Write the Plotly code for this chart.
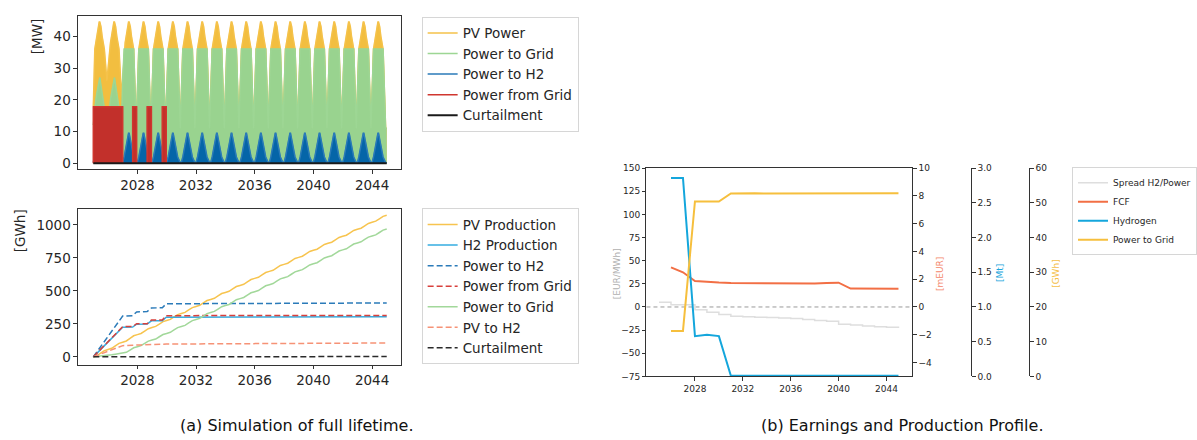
import numpy as np
import plotly.graph_objects as go

# ---------------- (a) hourly power, drawn as daily-peak envelopes ----------------
years = list(range(2025, 2045))                      # operating years
season_t = [0.0, 0.10, 0.17, 0.24, 0.32, 0.40, 0.44, 0.52, 0.60, 0.67, 0.75, 0.925]   # fraction of year
pv_daily_peak_mw = [21.7, 36.0, 38.0, 40.0, 43.0, 44.5, 44.5, 43.0, 40.0, 38.0, 36.0, 11.0]
pv_jan_peak_mw = [18.0, 30.0, 26.0] + [21.7] * 17
pv_dec_peak_mw = [26.0, 21.0] + [11.0] * 18
grid_early_peak_mw = [12.0, 18.0, 20.0, 22.0, 24.5, 27.0, 27.0, 24.5, 22.0, 20.0, 18.0, 12.0]
early_years = 2
grid_export_cap_mw = 36.0
h2_daily_peak_mw = [0.3, 2.0, 4.0, 5.5, 7.5, 9.5, 9.5, 7.5, 5.5, 4.0, 2.0, 0.2]
import_start = [2025.0, 2027.68, 2028.67, 2029.70]
import_end = [2027.0, 2027.95, 2028.96, 2029.97]
import_mw = 17.8
curtailment_mw = [0.0] * 20

# ---------------- (a) cumulative energy ----------------
quarter_share = [0.16, 0.34, 0.34, 0.16]
pv_production_gwh = [55.6, 55.6, 57.4, 53.4, 53.4, 53.1, 53.2, 53.2, 53.1, 53.1,
                     53.2, 53.1, 53.1, 53.1, 53.2, 53.1, 53.0, 53.1, 53.2, 53.1]
step_t = [2025.0, 2027.0, 2027.68, 2027.95, 2028.67, 2028.96, 2029.70, 2029.97, 2045.0]
h2_production_cum = [0, 225, 226, 247, 248, 273, 274, 300, 304]
power_to_h2_cum = [0, 309, 312, 340, 343, 370, 372, 402, 408]
power_from_grid_cum = [0, 229, 229, 251, 251, 279, 279, 312, 314]
pv_to_h2_cum = [0, 85, 88, 89, 92, 93, 96, 97, 105]
curtailment_cum = [0, 1, 1, 1, 1, 1, 1, 1, 2]

# ---------------- (b) yearly earnings and production ----------------
report_years = list(range(2026, 2046))
fcf_meur = [2.85, 2.50, 1.87, 1.80, 1.76, 1.73, 1.72, 1.71, 1.71, 1.70,
            1.69, 1.69, 1.70, 1.72, 1.75, 1.33, 1.32, 1.32, 1.31, 1.31]
hydrogen_mt = [2.86, 2.86, 0.58, 0.60, 0.58] + [0.01] * 15
power_to_grid_gwh = [13.1, 13.1, 50.4, 50.4, 50.4, 52.7, 52.8, 52.8, 52.7, 52.7,
                     52.7, 52.8, 52.7, 52.7, 52.7, 52.8, 52.7, 52.6, 52.7, 52.8]
spread_years = list(range(2025, 2046))
spread_eur_mwh = [5.0, 2.5, 2.3, -3.0, -5.7, -8.2, -9.9, -10.5, -11.0, -11.5, -12.0,
                  -12.5, -13.5, -14.5, -15.5, -18.7, -19.5, -20.5, -21.5, -22.0, -22.6]

W, H = 1197, 440
FONT = "DejaVu Sans"
TXT = "#262626"


def px_x(p):
    return p / W


def px_y(p):
    return 1 - p / H


# envelopes of the hourly series
yr = np.array(years, dtype=float)
t = np.array(season_t)
x_hour = np.append((yr[:, None] + t[None, :]).ravel(), yr[-1] + 1)
pv_env = np.tile(pv_daily_peak_mw, (len(years), 1))
pv_env[:, 0] = pv_jan_peak_mw
pv_env[:, -1] = pv_dec_peak_mw
grid_env = np.minimum(pv_env, grid_export_cap_mw)
grid_env[:early_years] = grid_early_peak_mw
h2_env = np.tile(h2_daily_peak_mw, (len(years), 1))
pv_env = np.append(pv_env.ravel(), pv_daily_peak_mw[-1])
grid_env = np.append(grid_env.ravel(), pv_daily_peak_mw[-1])
h2_env = np.append(h2_env.ravel(), h2_daily_peak_mw[-1])

imp_x, imp_y = [], []
for s, e in zip(import_start, import_end):
    imp_x += [s, s, e, e, None]
    imp_y += [0, import_mw, import_mw, 0, None]

fig = go.Figure()

top = [("PV Power", pv_env, "#f2be40", "#f5c24a"),
       ("Power to Grid", grid_env, "#99d38f", "#9dd694"),
       ("Power to H2", h2_env, "#0565a8", "#2a7ab8")]
for name, env, col, key_col in top:
    fig.add_trace(go.Scatter(x=x_hour, y=env, mode="lines", fill="tozeroy", fillcolor=col,
                             line=dict(color=col, width=0.5), showlegend=False,
                             hoverinfo="skip", xaxis="x", yaxis="y"))
    fig.add_trace(go.Scatter(x=x_hour, y=env, mode="lines", name=name,
                             line=dict(color=key_col, width=1.5), legend="legend",
                             xaxis="x", yaxis="y"))
fig.add_trace(go.Scatter(x=imp_x, y=imp_y, mode="lines", fill="toself", fillcolor="#c2302b",
                         line=dict(color="#c2302b", width=0.5), showlegend=False,
                         hoverinfo="skip", xaxis="x", yaxis="y"))
fig.add_trace(go.Scatter(x=imp_x, y=imp_y, mode="lines", name="Power from Grid",
                         line=dict(color="#d0362f", width=1.5), legend="legend",
                         xaxis="x", yaxis="y"))
fig.add_trace(go.Scatter(x=list(yr) + [yr[-1] + 1], y=curtailment_mw + [curtailment_mw[-1]],
                         mode="lines", name="Curtailment", line=dict(color="#1a1a1a", width=2),
                         legend="legend", xaxis="x", yaxis="y"))

# cumulative energy lines
q = np.array(quarter_share)
xq = np.concatenate([[yr[0]], (yr[:, None] + np.array([0.25, 0.5, 0.75, 1.0])).ravel()])


def cum_quarterly(yearly):
    inc = (np.array(yearly, dtype=float)[:, None] * q[None, :]).ravel()
    return np.concatenate([[0.0], np.cumsum(inc)])


DASH = "6px,3px"
bottom = [
    ("PV Production", xq, cum_quarterly(pv_production_gwh), "#f7c44f", "solid"),
    ("H2 Production", step_t, h2_production_cum, "#35ace0", "solid"),
    ("Power to H2", step_t, power_to_h2_cum, "#2b7bb9", DASH),
    ("Power from Grid", step_t, power_from_grid_cum, "#d8403c", DASH),
    ("Power to Grid", xq, cum_quarterly(power_to_grid_gwh), "#a2d89a", "solid"),
    ("PV to H2", step_t, pv_to_h2_cum, "#f69276", DASH),
    ("Curtailment", step_t, curtailment_cum, "#2a2a2a", DASH),
]
for name, xs, ys, col, dash in bottom:
    fig.add_trace(go.Scatter(x=xs, y=ys, mode="lines", name=name,
                             line=dict(color=col, width=1.5, dash=dash),
                             legend="legend2", xaxis="x2", yaxis="y2"))

# (b) earnings and production profile
fig.add_trace(go.Scatter(x=spread_years, y=spread_eur_mwh, mode="lines", name="Spread H2/Power",
                         line=dict(color="#dedede", width=1.5, shape="hv"),
                         legend="legend3", xaxis="x3", yaxis="y3"))
fig.add_trace(go.Scatter(x=report_years, y=fcf_meur, mode="lines", name="FCF",
                         line=dict(color="#f26f45", width=2),
                         legend="legend3", xaxis="x3", yaxis="y4"))
fig.add_trace(go.Scatter(x=report_years, y=hydrogen_mt, mode="lines", name="Hydrogen",
                         line=dict(color="#14a6dc", width=2),
                         legend="legend3", xaxis="x3", yaxis="y5"))
fig.add_trace(go.Scatter(x=report_years, y=power_to_grid_gwh, mode="lines", name="Power to Grid",
                         line=dict(color="#f6bf3d", width=2),
                         legend="legend3", xaxis="x3", yaxis="y6"))

ax_line = dict(showline=True, linecolor="#333333", linewidth=1, showgrid=False, zeroline=False,
               ticks="outside", ticklen=3.5, tickcolor="#333333")
left_x = [px_x(78), px_x(401)]
year_ticks = [2028, 2032, 2036, 2040, 2044]

fig.update_layout(
    width=W, height=H, margin=dict(l=0, r=0, t=0, b=0),
    paper_bgcolor="white", plot_bgcolor="white",
    font=dict(family=FONT, color=TXT),
    xaxis=dict(domain=left_x, anchor="y", range=[2023.95, 2045.95], tickvals=year_ticks,
               mirror=True, tickfont=dict(size=13.5), **ax_line),
    yaxis=dict(domain=[px_y(168), px_y(11)], anchor="x", range=[-1.85, 46.46],
               tickvals=[0, 10, 20, 30, 40], mirror=True, tickfont=dict(size=13.5), **ax_line),
    xaxis2=dict(domain=left_x, anchor="y2", range=[2023.95, 2045.95], tickvals=year_ticks,
                mirror=True, tickfont=dict(size=13.5), **ax_line),
    yaxis2=dict(domain=[px_y(368), px_y(209)], anchor="x2", range=[-59, 1118],
                tickvals=[0, 250, 500, 750, 1000], mirror=True, tickfont=dict(size=13.5), **ax_line),
    xaxis3=dict(domain=[px_x(647), px_x(913)], anchor="y3", range=[2023.95, 2046.15],
                tickvals=year_ticks, mirror=True, tickfont=dict(size=9), **ax_line),
    yaxis3=dict(domain=[px_y(380), px_y(167)], anchor="x3", range=[-75, 150],
                tickvals=list(range(-75, 151, 25)), tickfont=dict(size=9), **ax_line),
    yaxis4=dict(overlaying="y3", anchor="x3", side="right", range=[-5, 10],
                tickvals=[-4, -2, 0, 2, 4, 6, 8, 10], tickfont=dict(size=9), **ax_line),
    yaxis5=dict(overlaying="y3", anchor="free", position=px_x(972), side="right", range=[0, 3],
                tickvals=[0, 0.5, 1, 1.5, 2, 2.5, 3], tickformat=".1f",
                tickfont=dict(size=9), **ax_line),
    yaxis6=dict(overlaying="y3", anchor="free", position=px_x(1030), side="right", range=[0, 60],
                tickvals=[0, 10, 20, 30, 40, 50, 60], tickfont=dict(size=9), **ax_line),
    legend=dict(x=px_x(422), y=px_y(12), xanchor="left", yanchor="top", bgcolor="white",
                bordercolor="#d6d6d6", borderwidth=1, font=dict(size=13.5, color=TXT)),
    legend2=dict(x=px_x(422), y=px_y(208), xanchor="left", yanchor="top", bgcolor="white",
                 bordercolor="#d6d6d6", borderwidth=1, font=dict(size=13.5, color=TXT)),
    legend3=dict(x=px_x(1073), y=px_y(166), xanchor="left", yanchor="top", bgcolor="white",
                 bordercolor="#d6d6d6", borderwidth=1, font=dict(size=9, color=TXT)),
    shapes=[dict(type="line", xref="x3 domain", yref="y3", x0=0, x1=1, y0=0, y1=0,
                 line=dict(color="#9a9a9a", width=1, dash="4px,3px"), layer="below")],
)

labels = [
    ("[MW]", 37, 32, 13.5, TXT),
    ("[GWh]", 19.5, 231, 13.5, TXT),
    ("[EUR/MWh]", 617, 275, 9, "#b0b0b0"),
    ("[mEUR]", 941, 275, 9, "#f4876a"),
    ("[Mt]", 1001, 274, 9, "#1aa6dc"),
    ("[GWh]", 1057, 275, 9, "#f5c04a"),
]
for text, x, y, size, col in labels:
    fig.add_annotation(text=text, x=px_x(x), y=px_y(y), xref="paper", yref="paper",
                       textangle=-90, showarrow=False, xanchor="center", yanchor="middle",
                       font=dict(size=size, color=col))

for text, x in [("(a) Simulation of full lifetime.", 297), ("(b) Earnings and Production Profile.", 903)]:
    fig.add_annotation(text=text, x=px_x(x), y=px_y(430), xref="paper", yref="paper",
                       showarrow=False, xanchor="center", yanchor="middle",
                       font=dict(size=16, family="DejaVu Sans", color="#111111"))

fig.write_html("out.html")
